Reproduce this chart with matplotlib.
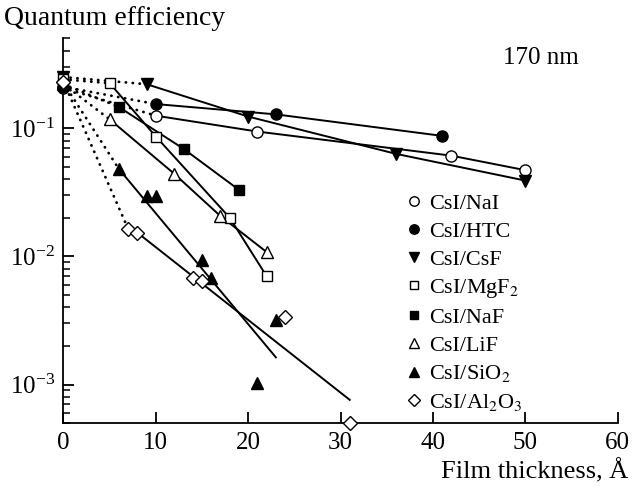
import matplotlib

matplotlib.use("Agg")
import matplotlib.pyplot as plt
from matplotlib.lines import Line2D
from matplotlib.ticker import LogLocator, NullFormatter

plt.rcParams["font.family"] = ["Liberation Serif", "DejaVu Serif"]
plt.rcParams["mathtext.fontset"] = "stix"

labels = ["CsI/NaI", "CsI/HTC", "CsI/CsF", "CsI/MgF$_2$",
          "CsI/NaF", "CsI/LiF", "CsI/SiO$_2$", "CsI/Al$_2$O$_3$"]
markers = ["o", "o", "v", "s", "s", "^", "^", "D"]
filled = [False, True, True, False, True, False, True, False]

# bare CsI efficiency (zero film thickness) for each sample
qe_bare = [0.205, 0.21, 0.25, 0.24, 0.22, 0.22, 0.225, 0.23]

nai_x = [10, 21, 42, 50]
nai_y = [0.125, 0.094, 0.061, 0.047]
htc_x = [10, 23, 41]
htc_y = [0.154, 0.128, 0.087]
csf_x = [9, 20, 36, 50]
csf_y = [0.22, 0.123, 0.063, 0.039]
mgf2_x = [5, 10, 18, 22]
mgf2_y = [0.224, 0.086, 0.020, 0.0070]
naf_x = [6, 13, 19]
naf_y = [0.146, 0.069, 0.033]
lif_x = [5, 12, 17, 22]
lif_y = [0.117, 0.044, 0.0206, 0.0108]
sio2_x = [6, 9, 10, 15, 16, 21, 23]
sio2_y = [0.048, 0.0294, 0.0294, 0.0094, 0.0068, 0.00103, 0.0032]
al2o3_x = [7, 8, 14, 15, 24, 31]
al2o3_y = [0.0164, 0.0153, 0.00675, 0.00643, 0.00337, 0.0005]

# exponential fits for the oxide films
sio2_fit_x = [6, 23]
sio2_fit_y = [0.048, 0.00163]
al2o3_fit_x = [8, 31]
al2o3_fit_y = [0.0153, 0.00076]

series_x = [nai_x, htc_x, csf_x, mgf2_x, naf_x, lif_x, sio2_x, al2o3_x]
series_y = [nai_y, htc_y, csf_y, mgf2_y, naf_y, lif_y, sio2_y, al2o3_y]
solid_x = [nai_x, htc_x, csf_x, mgf2_x, naf_x, lif_x, sio2_fit_x, al2o3_fit_x]
solid_y = [nai_y, htc_y, csf_y, mgf2_y, naf_y, lif_y, sio2_fit_y, al2o3_fit_y]

fig = plt.figure(figsize=(6.38, 4.87), dpi=100)
ax = fig.add_axes([0.0995, 0.131, 0.8685, 0.790])

msize = {"o": 8, "s": 7.5, "v": 9, "^": 9, "D": 7}
for i in range(len(labels)):
    face = "black" if filled[i] else "white"
    # dotted link from the bare film to the first coated point
    ax.plot([0, series_x[i][0]], [qe_bare[i], series_y[i][0]], color="black",
            lw=2.0, linestyle=(0, (0.1, 2.4)), dash_capstyle="round", zorder=2)
    ax.plot(solid_x[i], solid_y[i], color="black", lw=1.4, zorder=2)
    ax.plot([0] + series_x[i], [qe_bare[i]] + series_y[i], linestyle="none",
            marker=markers[i], ms=msize[markers[i]], mfc=face, mec="black",
            mew=1.0, clip_on=False, zorder=3)

ax.set_yscale("log")
ax.set_xlim(0, 60)
ax.set_ylim(5e-4, 0.5)
ax.set_xticks(range(0, 61, 10))
ax.yaxis.set_major_locator(LogLocator(base=10, numticks=10))
ax.yaxis.set_minor_locator(LogLocator(base=10, subs=range(2, 10), numticks=10))
ax.yaxis.set_minor_formatter(NullFormatter())
ax.spines[["top", "right"]].set_visible(False)
for side in ["left", "bottom"]:
    ax.spines[side].set_linewidth(1.3)
ax.tick_params(which="major", direction="in", length=8, width=1.3,
               labelsize=18, pad=6)
ax.tick_params(which="minor", direction="in", length=5, width=1.1)

handles = [Line2D([], [], linestyle="none", marker=markers[i],
                  ms=msize[markers[i]] * 0.85,
                  mfc="black" if filled[i] else "white", mec="black", mew=1.0)
           for i in range(len(labels))]
ax.legend(handles, labels, frameon=False, fontsize=16, loc="upper left",
          bbox_to_anchor=(0.60, 0.62), handlelength=0.8, handletextpad=0.3,
          labelspacing=0.33, borderaxespad=0)

fig.text(0.006, 0.948, "Quantum efficiency", fontsize=20)
fig.text(0.788, 0.868, "170 nm", fontsize=18)
fig.text(0.984, 0.018, "Film thickness, Å", fontsize=19, ha="right")

fig.savefig("out.png", dpi=100)
